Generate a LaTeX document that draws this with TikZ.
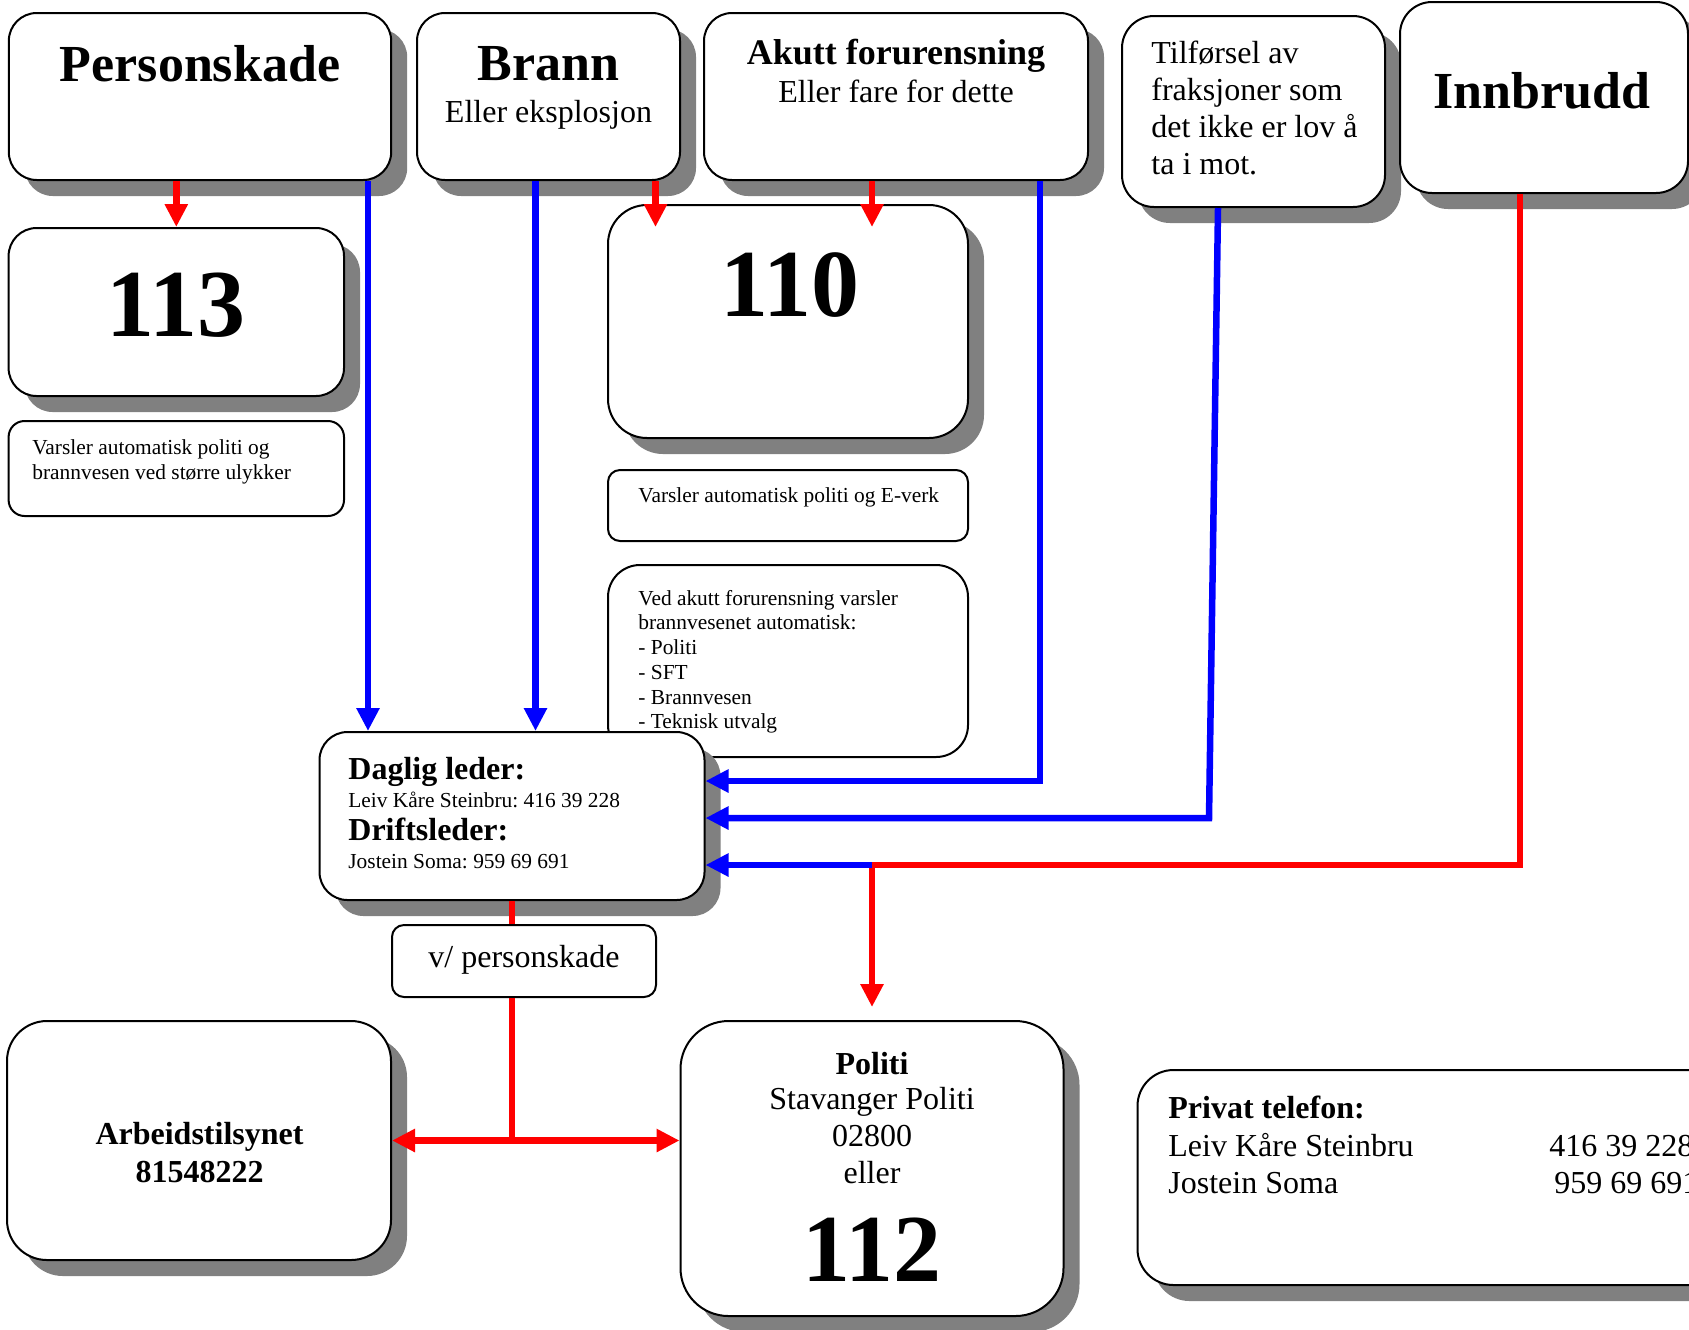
\documentclass[tikz,border=0pt]{standalone}
\usepackage{fontspec}
\setmainfont{Liberation Serif}
\frenchspacing
\usetikzlibrary{arrows.meta,shadows}

\begin{document}
\begin{tikzpicture}[x=0.5pt, y=-0.5pt,
    panel/.style={draw, line width=1pt, fill=white, inner sep=0pt, rounded corners=#1},
    panel/.default=14pt,
    shadowed/.style={drop shadow={shadow xshift=8pt, shadow yshift=-8pt, fill=black!50, opacity=1}},
    tnum/.style={font=\fontsize{48}{50}\selectfont\bfseries, anchor=base, inner sep=0pt},
    tbig/.style={font=\fontsize{26}{30}\selectfont\bfseries, anchor=base, inner sep=0pt},
    tmid/.style={font=\fontsize{16}{18.5}\selectfont, anchor=base, inner sep=0pt},
    tbold/.style={tmid, font=\fontsize{16}{18.5}\selectfont\bfseries},
    tsmall/.style={font=\fontsize{10.7}{12.25}\selectfont, anchor=base west, inner sep=0pt},
    redflow/.style={draw=red, line width=3.25pt},
    blueflow/.style={draw=blue, line width=3.25pt},
    headend/.style={-{Triangle[length=11.5pt,width=11pt]}},
    headboth/.style={{Triangle[length=11.5pt,width=11pt]}-{Triangle[length=11.5pt,width=11pt]}}
  ]
  \useasboundingbox (0,0) rectangle (1689,1329);
  \clip (0,0) rectangle (1689,1329);

  % Top row: what has happened
  \node[panel, shadowed, minimum width=191.2pt, minimum height=83.5pt] (pers) at (200,96.5) {};
  \node[panel, shadowed, minimum width=131.5pt, minimum height=83.5pt] (brann) at (548.5,96.5) {};
  \node[panel, shadowed, minimum width=192pt, minimum height=83.5pt] (akutt) at (896,96.5) {};
  \node[panel=16pt, shadowed, minimum width=131.5pt, minimum height=95.5pt] (tilf) at (1253.5,111.5) {};
  \node[panel=16pt, shadowed, minimum width=144pt, minimum height=95.5pt] (innbr) at (1544,97.5) {};

  % Emergency numbers and notes
  \node[panel, shadowed, minimum width=167.7pt, minimum height=84pt] (n113) at (176.3,312) {};
  \node[panel=8pt, minimum width=167.7pt, minimum height=47.5pt] (var1) at (176.3,468.5) {};
  \node[panel=19.5pt, shadowed, minimum width=180pt, minimum height=116.5pt] (n110) at (788,321.5) {};
  \node[panel=6pt, minimum width=180pt, minimum height=35.5pt] (var2) at (788,505.5) {};
  \node[panel=16pt, minimum width=180pt, minimum height=96pt] (ved) at (788,661) {};

  % Manager, police and the rest
  \node[panel, shadowed, minimum width=192.5pt, minimum height=84pt] (daglig) at (512,816) {};
  \node[panel=6pt, minimum width=132pt, minimum height=36pt] (vpers) at (524,961) {};
  \node[panel=20pt, shadowed, minimum width=192pt, minimum height=119.5pt] (arb) at (199,1140.5) {};
  \node[panel=24pt, shadowed, minimum width=191.5pt, minimum height=147.5pt] (pol) at (872,1168.5) {};
  \node[panel=18pt, shadowed, minimum width=312.5pt, minimum height=107.5pt] (priv) at (1450,1177.5) {};

  % Texts
  \node[tbig] (persT) at (200,81) {Personskade};
  \node[tbig] (brannT) at (548.5,80) {Brann};
  \node[tmid] (brannS) at (548.5,122) {Eller eksplosjon};
  \node[tmid, font=\fontsize{18}{21}\selectfont\bfseries] (akuttT) at (896,64) {Akutt forurensning};
  \node[tmid] (akuttS) at (896,102) {Eller fare for dette};
  \foreach \txt [count=\i] in {Tilførsel av, fraksjoner som, det ikke er lov å, ta i mot.}
    \node[tmid, anchor=base west] (tilf\i) at (1151,{26+37*\i}) {\txt};
  \node[tbig] (innbrT) at (1542,108) {Innbrudd};

  \node[tnum] (n113T) at (176,336) {113};
  \foreach \txt [count=\i] in {Varsler automatisk politi og, brannvesen ved større ulykker}
    \node[tsmall] (var1\i) at (32,{429+25*\i}) {\txt};
  \node[tnum] (n110T) at (790,316) {110};
  \node[tsmall] (var2T) at (638,502) {Varsler automatisk politi og E-verk};
  \foreach \txt [count=\i] in {Ved akutt forurensning varsler, brannvesenet automatisk:, - Politi, - SFT, - Brannvesen, - Teknisk utvalg}
    \node[tsmall] (ved\i) at (638,{580.5+24.7*\i}) {\txt};

  \node[tbold, anchor=base west] (dagT) at (348,779) {Daglig leder:};
  \node[tsmall] (dagN) at (348,807) {Leiv Kåre Steinbru: 416 39 228};
  \node[tbold, anchor=base west] (driftT) at (348,840) {Driftsleder:};
  \node[tsmall] (driftN) at (348,868) {Jostein Soma: 959 69 691};
  \node[tmid] (vpersT) at (524,967) {v/ personskade};

  \node[tbold] (arbT) at (199.5,1144) {Arbeidstilsynet};
  \node[tbold] (arbN) at (199.5,1182) {81548222};
  \node[tbold] (polT) at (872,1074) {Politi};
  \foreach \txt [count=\i] in {Stavanger Politi, 02800, eller}
    \node[tmid] (pol\i) at (872,{1073+36.7*\i}) {\txt};
  \node[tnum] (n112T) at (872,1281) {112};

  \node[tbold, anchor=base west] (privT) at (1168,1118) {Privat telefon:};
  \node[tmid, anchor=base west] (privA) at (1168,1156) {Leiv Kåre Steinbru};
  \node[tmid, anchor=base west] (privB) at (1168,1193) {Jostein Soma};
  \node[tmid, anchor=base west] (privAn) at (1549,1156) {416 39 228};
  \node[tmid, anchor=base west] (privBn) at (1554,1193) {959 69 691};

  % Red: call the emergency number
  \draw[redflow, headend] (pers.south -| n113.north) -- (n113.north);
  \coordinate (bHit) at ([xshift=-66.25pt, yshift=-11.5pt]n110.north);
  \coordinate (aHit) at ([xshift=42pt, yshift=-11.5pt]n110.north);
  \draw[redflow, headend] (brann.south -| bHit) -- (bHit);
  \draw[redflow, headend] (akutt.south -| aHit) -- (aHit);

  % Blue: tell the manager
  \coordinate (pIn) at ([xshift=-72pt]daglig.north);
  \coordinate (bIn) at ([xshift=11.75pt]daglig.north);
  \draw[blueflow, headend] (pers.south -| pIn) -- (pIn);
  \draw[blueflow, headend] (brann.south -| bIn) -- (bIn);
  \coordinate (akBend) at (1040,781);
  \coordinate (tfBend) at (1209,818);
  \draw[blueflow, headend] (akutt.south -| akBend) -- (akBend) -- (daglig.east |- akBend);
  \draw[blueflow, headend] ([xshift=-17.75pt]tilf.south) -- (tfBend) -- (daglig.east |- tfBend);

  % Innbrudd: police and manager
  \coordinate (inBend) at (1520,865);
  \coordinate (junc) at (872,865);
  \draw[redflow, headend] (innbr.south -| inBend) -- (inBend) -- (junc) -- ([yshift=6.5pt]pol.north);
  \draw[blueflow, headend] (junc) -- (daglig.east |- junc);

  % From the manager on personal injury
  \draw[redflow] (daglig.south) -- (vpers.north -| daglig.south);
  \draw[redflow] (vpers.south -| daglig.south) -- (daglig.south |- arb.east);
  \draw[redflow, headboth] (arb.east) -- (pol.west |- arb.east);
\end{tikzpicture}
\end{document}
